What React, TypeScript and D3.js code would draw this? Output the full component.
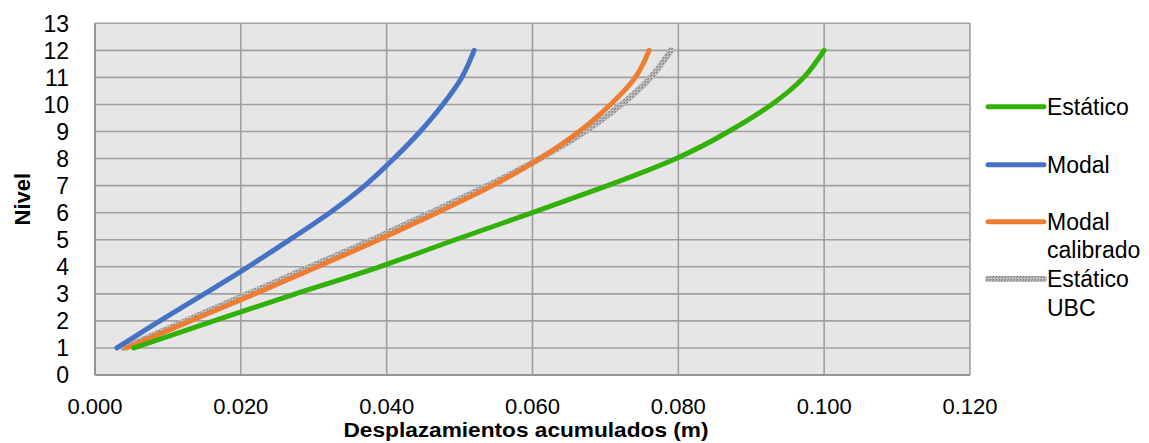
import React from "react";
import * as d3 from "d3";

const levels = [1, 2, 3, 4, 5, 6, 7, 8, 9, 10, 11, 12];
const estatico = [0.0053, 0.0163, 0.0275, 0.039, 0.0494, 0.06, 0.0703, 0.0797, 0.0869, 0.0928, 0.0972, 0.1];
const modal = [0.003, 0.0089, 0.015, 0.021, 0.0267, 0.0322, 0.037, 0.041, 0.0446, 0.0477, 0.0503, 0.052];
const modalCalibrado = [0.0043, 0.0131, 0.0219, 0.0305, 0.0389, 0.0469, 0.0545, 0.061, 0.0664, 0.0707, 0.0741, 0.076];
const estaticoUBC = [0.0039, 0.0124, 0.021, 0.0295, 0.038, 0.046, 0.0538, 0.061, 0.0672, 0.0722, 0.0762, 0.079];

const xTicks = [0, 0.02, 0.04, 0.06, 0.08, 0.1, 0.12];
const yTicks = [0, 1, 2, 3, 4, 5, 6, 7, 8, 9, 10, 11, 12, 13];

const seriesNames = ["Estático", "Modal", "Modal calibrado", "Estático UBC"];
const seriesData = [estatico, modal, modalCalibrado, estaticoUBC];
const seriesColors = ["#33b10b", "#4472c4", "#ed7d31", "url(#ubcPat)"];
const legendLines = [["Estático"], ["Modal"], ["Modal", "calibrado"], ["Estático", "UBC"]];

export default function App() {
  const W = 1149, H = 443;
  const x = d3.scaleLinear().domain([0, 0.12]).range([95, 970]);
  const y = d3.scaleLinear().domain([0, 13]).range([375, 23.3]);
  const line = d3
    .line<[number, number]>()
    .x((d) => x(d[0]))
    .y((d) => y(d[1]))
    .curve(d3.curveNatural);

  const font = "'Liberation Sans', Arial, sans-serif";
  const legendY = [106.7, 164.7, 221.7, 279];
  const drawOrder = [3, 2, 1, 0];

  return (
    <div style={{ position: "fixed", left: 0, top: 0 }}>
      <svg width={W} height={H} style={{ display: "block", background: "#fff" }}>
        <defs>
          <pattern id="ubcPat" patternUnits="userSpaceOnUse" width="3" height="3">
            <rect width="3" height="3" fill="#b4b4b4" />
            <rect x="0" y="0" width="1" height="1" fill="#7f7f7f" />
            <rect x="2" y="1" width="1" height="1" fill="#8c8c8c" />
            <rect x="1" y="2" width="1" height="1" fill="#d0d0d0" />
          </pattern>
        </defs>
        <rect x={x(0)} y={y(13)} width={x(0.12) - x(0)} height={y(0) - y(13)} fill="#e6e6e6" />
        {yTicks.map((t) => (
          <line key={"h" + t} x1={x(0)} x2={x(0.12)} y1={y(t)} y2={y(t)} stroke="#a0a0a0" strokeWidth={1.6} />
        ))}
        {xTicks.map((t) => (
          <line key={"v" + t} x1={x(t)} x2={x(t)} y1={y(0)} y2={y(13)} stroke="#a0a0a0" strokeWidth={1.6} />
        ))}
        <line x1={x(0)} x2={x(0)} y1={y(0)} y2={y(13)} stroke="#959595" strokeWidth={2} />
        <line x1={x(0)} x2={x(0.12)} y1={y(0)} y2={y(0)} stroke="#959595" strokeWidth={2} />

        {drawOrder.map((i) => (
          <path
            key={seriesNames[i]}
            d={line(seriesData[i].map((v, k) => [v, levels[k]] as [number, number])) || ""}
            fill="none"
            stroke={seriesColors[i]}
            strokeWidth={i === 3 ? 6 : 5}
            strokeLinecap="round"
            strokeLinejoin="round"
          />
        ))}

        {yTicks.map((t) => (
          <text key={"yt" + t} x={69} y={y(t)} dy="0.36em" textAnchor="end" fontFamily={font} fontSize={23} fill="#000">
            {t}
          </text>
        ))}
        {xTicks.map((t) => (
          <text key={"xt" + t} x={x(t)} y={414} textAnchor="middle" fontFamily={font} fontSize={22} fill="#000">
            {d3.format(".3f")(t)}
          </text>
        ))}
        <text x={526} y={437} textAnchor="middle" fontFamily={font} fontSize={20} fontWeight="bold" fill="#000" textLength={365} lengthAdjust="spacingAndGlyphs">
          Desplazamientos acumulados (m)
        </text>
        <text transform={`translate(30,${y(6.5)}) rotate(-90)`} textAnchor="middle" fontFamily={font} fontSize={22} fontWeight="bold" fill="#000">
          Nivel
        </text>

        {legendLines.map((lines, i) => (
          <g key={"lg" + i}>
            <line x1={988} x2={1044} y1={legendY[i]} y2={legendY[i]} stroke={seriesColors[i]} strokeWidth={i === 3 ? 6 : 5} strokeLinecap="round" />
            {lines.map((s, j) => (
              <text key={j} x={1047} y={legendY[i] + j * 28.3} dy="0.36em" fontFamily={font} fontSize={23} fill="#000">
                {s}
              </text>
            ))}
          </g>
        ))}
      </svg>
    </div>
  );
}
